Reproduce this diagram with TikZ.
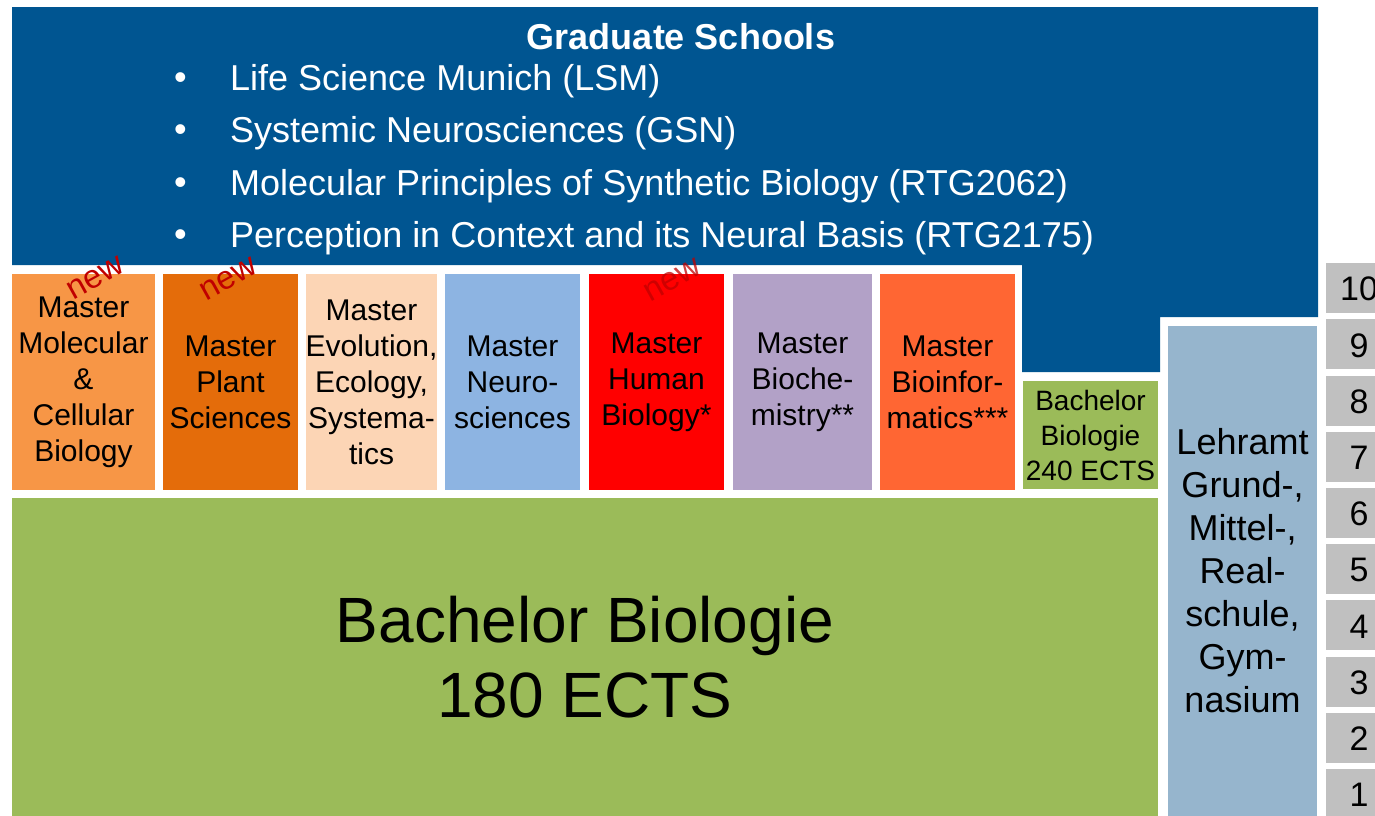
\documentclass[tikz,border=0pt]{standalone}
\usepackage{fontspec}
\setmainfont{Liberation Sans}
\definecolor{gsblue}{RGB}{0,85,145}
\definecolor{mA}{RGB}{247,150,70}
\definecolor{mB}{RGB}{228,108,10}
\definecolor{mC}{RGB}{252,213,181}
\definecolor{mD}{RGB}{141,180,226}
\definecolor{mE}{RGB}{255,0,0}
\definecolor{mF}{RGB}{178,161,199}
\definecolor{mG}{RGB}{255,102,51}
\definecolor{bgreen}{RGB}{155,187,89}
\definecolor{lblue}{RGB}{150,181,205}
\definecolor{numgray}{RGB}{192,192,192}
\definecolor{newred}{RGB}{192,0,0}
\tikzset{
  master/.style={inner sep=0pt, minimum height=216pt, align=center, font=\fontsize{30}{36}\selectfont},
  newlabel/.style={text=newred, rotate=29, font=\fontsize{33}{34}\selectfont, inner sep=0pt},
  bullet/.style={text=white, anchor=west, inner sep=0pt, font=\fontsize{36}{38}\selectfont}
}
\begin{document}
\begin{tikzpicture}[x=1pt,y=-1pt]
\useasboundingbox (0,0) rectangle (1375,815);
\clip (0,0) rectangle (1375,815);
% graduate schools shape
\fill[gsblue] (12,7) -- (1318,7) -- (1318,317) -- (1160,317) -- (1160,372) -- (1022,372) -- (1022,265) -- (12,265) -- cycle;
\node[text=white, font=\bfseries\fontsize{36}{38}\selectfont, inner sep=0pt] (gstitle) at (681,37) {Graduate Schools};
\node[bullet] (b1) at (174,81) {•};
\node[bullet] (t1) at (230,81) {Life Science Munich (LSM)};
\node[bullet] (b2) at (174,133) {•};
\node[bullet] (t2) at (230,133) {Systemic Neurosciences (GSN)};
\node[bullet] (b3) at (174,186) {•};
\node[bullet] (t3) at (230,186) {Molecular Principles of Synthetic Biology (RTG2062)};
\node[bullet] (b4) at (174,238) {•};
\node[bullet] (t4) at (230,238) {Perception in Context and its Neural Basis (RTG2175)};
% master boxes
\node[master, fill=mA, minimum width=143pt] (m1) at (83.5,382) {Master\\Molecular\\\&\\Cellular\\Biology};
\node[master, fill=mB, minimum width=135pt] (m2) at (230.5,382) {Master\\Plant\\Sciences};
\node[master, fill=mC, minimum width=131pt] (m3) at (371.5,382) {Master\\Evolution,\\Ecology,\\Systema-\\tics};
\node[master, fill=mD, minimum width=135pt] (m4) at (512.5,382) {Master\\Neuro-\\sciences};
\node[master, fill=mE, minimum width=135pt] (m5) at (656.5,382) {Master\\Human\\Biology*};
\node[master, fill=mF, minimum width=139pt] (m6) at (802.5,382) {Master\\Bioche-\\mistry**};
\node[master, fill=mG, minimum width=135pt] (m7) at (947.5,382) {Master\\Bioinfor-\\matics***};
% new labels
\node[newlabel] (n1) at (96,278) {new};
\node[newlabel] (n2) at (229,279) {new};
\node[newlabel, text opacity=0.75] (n3) at (673,280) {new};
% bachelor 240
\node[fill=bgreen, inner sep=0pt, minimum width=135pt, minimum height=108pt, align=center, font=\fontsize{28}{35}\selectfont] (b240) at (1090.5,435) {Bachelor\\Biologie\\240 ECTS};
% big bachelor
\node[fill=bgreen, inner sep=0pt, minimum width=1146pt, minimum height=318pt, align=center, font=\fontsize{64}{75}\selectfont] (b180) at (585,657) {Bachelor Biologie\\180 ECTS};
% Lehramt
\node[fill=lblue, inner sep=0pt, minimum width=149pt, minimum height=490pt, align=center, font=\fontsize{36}{43}\selectfont] (lehr) at (1242.5,571) {Lehramt\\Grund-,\\Mittel-,\\Real-\\schule,\\Gym-\\nasium};
% semester numbers
\foreach \n [evaluate=\n as \yy using {769+25-(\n-1)*56.2}] in {1,...,10} {
  \node[fill=numgray, minimum width=62pt, minimum height=50pt] (s\n) at (1357,\yy) {};
  \node[inner sep=0pt, font=\fontsize{34}{38}\selectfont] (l\n) at (1359,\yy+1) {\n};
}
\end{tikzpicture}
\end{document}
